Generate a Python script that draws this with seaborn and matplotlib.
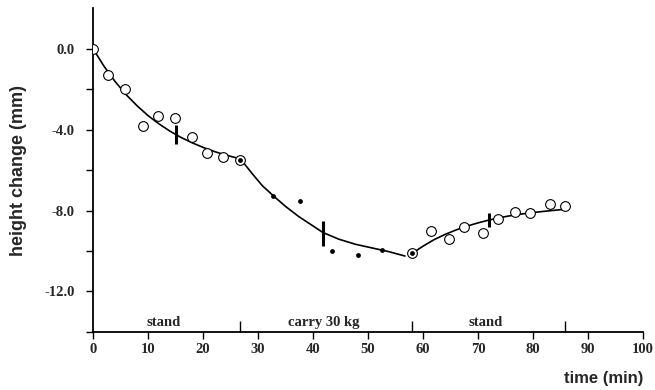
import numpy as np
import pandas as pd
import matplotlib
matplotlib.use("Agg")
import matplotlib.pyplot as plt
import seaborn as sns

# ---- data ----
stand1_t = [0.0, 2.8, 5.9, 9.0, 11.8, 14.9, 18.0, 20.8, 23.7, 26.8]
stand1_h = [0.0, -1.29, -2.01, -3.83, -3.35, -3.45, -4.36, -5.17, -5.36, -5.50]

carry_t = [32.8, 37.6, 43.5, 48.2, 52.6]
carry_h = [-7.28, -7.52, -10.0, -10.21, -9.93]

stand2_t = [58.0, 61.5, 64.7, 67.4, 70.8, 73.6, 76.7, 79.5, 83.0, 85.7]
stand2_h = [-10.12, -9.03, -9.42, -8.84, -9.11, -8.43, -8.05, -8.14, -7.66, -7.76]

# points with both circle and centre dot (phase transitions)
trans_t = [26.8, 58.0]
trans_h = [-5.50, -10.12]

# fitted curves
fit1_t = [0, 2, 4, 6, 8, 10, 12, 14, 16, 18, 20, 22, 24, 26.8]
fit1_h = [0.0, -0.87, -1.62, -2.27, -2.82, -3.31, -3.72, -4.08, -4.39, -4.65,
          -4.88, -5.08, -5.25, -5.45]
fit2_t = [26.8, 29.0, 30.8, 32.8, 35.0, 37.4, 39.8, 41.8, 44.7, 47.7, 50.7, 53.7, 56.7]
fit2_h = [-5.45, -6.20, -6.78, -7.28, -7.80, -8.30, -8.73, -9.09, -9.42, -9.67,
          -9.85, -10.03, -10.25]
fit3_t = [58.0, 60, 62, 64, 66, 68, 70, 72, 74, 76, 78, 80, 82, 85.7]
fit3_h = [-10.12, -9.76, -9.44, -9.18, -8.96, -8.77, -8.61, -8.47, -8.35, -8.25,
          -8.17, -8.10, -8.04, -7.94]

# half-time bars
bar_t = [15.0, 41.8, 71.9]
bar_h = [-4.24, -9.13, -8.47]
bar_half = [0.45, 0.62, 0.37]

# phases
phase_bounds = [26.8, 58.0, 85.7]
phase_labels = ["stand", "carry 30 kg", "stand"]
phase_label_t = [12.8, 42.0, 71.3]

xticks = [0, 10, 20, 30, 40, 50, 60, 70, 80, 90, 100]
yticks_major = [0.0, -4.0, -8.0, -12.0]
yticks_minor = [-2.0, -6.0, -10.0, -14.0]

# ---- plotting ----
sns.set_style("ticks")
plt.rcParams["font.family"] = ["Liberation Serif", "DejaVu Serif"]

fig, ax = plt.subplots(figsize=(6.55, 3.9), dpi=100)
fig.subplots_adjust(left=0.142, right=0.982, top=0.979, bottom=0.149)

open_df = pd.DataFrame({"t": stand1_t + stand2_t, "h": stand1_h + stand2_h})
dot_df = pd.DataFrame({"t": carry_t + trans_t, "h": carry_h + trans_h})

for ft, fh in [(fit1_t, fit1_h), (fit2_t, fit2_h), (fit3_t, fit3_h)]:
    sns.lineplot(x=ft, y=fh, ax=ax, color="black", linewidth=1.2, sort=False,
                 estimator=None, zorder=2)

ax.plot(open_df["t"], open_df["h"], linestyle="none", marker="o", markersize=7,
        markerfacecolor="white", markeredgecolor="black", markeredgewidth=0.8, zorder=3)
sns.scatterplot(data=dot_df, x="t", y="h", ax=ax, color="black", s=12,
                edgecolor="black", linewidth=0, zorder=4)

ax.vlines(bar_t, np.array(bar_h) - np.array(bar_half), np.array(bar_h) + np.array(bar_half),
          color="black", linewidth=2.2, zorder=4)

ax.vlines(phase_bounds, -14.0, -13.45, color="black", linewidth=1.0, clip_on=False)
for lt, lab in zip(phase_label_t, phase_labels):
    ax.text(lt, -13.72, lab, ha="center", va="baseline", fontsize=10.5, fontweight="bold")

ax.set_xlim(0, 100)
ax.set_ylim(-14, 2)
ax.set_xticks(xticks)
ax.set_xticklabels([str(v) for v in xticks], fontsize=10.5, fontweight="bold")
ax.set_yticks(yticks_major)
ax.set_yticklabels([f"{v:.1f}" for v in yticks_major], fontsize=10.5, fontweight="bold")
ax.set_yticks(yticks_minor, minor=True)
ax.tick_params(axis="both", which="both", direction="out", length=5, width=1.0,
               color="black", pad=3)
ax.tick_params(axis="y", which="major", pad=8)

sns.despine(ax=ax)
for s in ["left", "bottom"]:
    ax.spines[s].set_linewidth(1.3)
    ax.spines[s].set_color("black")

ax.set_ylabel("height change (mm)", fontsize=13, fontweight="bold",
              family=["Liberation Sans", "DejaVu Sans"], labelpad=13)
ax.set_xlabel("time (min)", fontsize=12, fontweight="bold",
              family=["Liberation Sans", "DejaVu Sans"], loc="right", labelpad=11)
ax.grid(False)

fig.savefig("out.png", dpi=100)
